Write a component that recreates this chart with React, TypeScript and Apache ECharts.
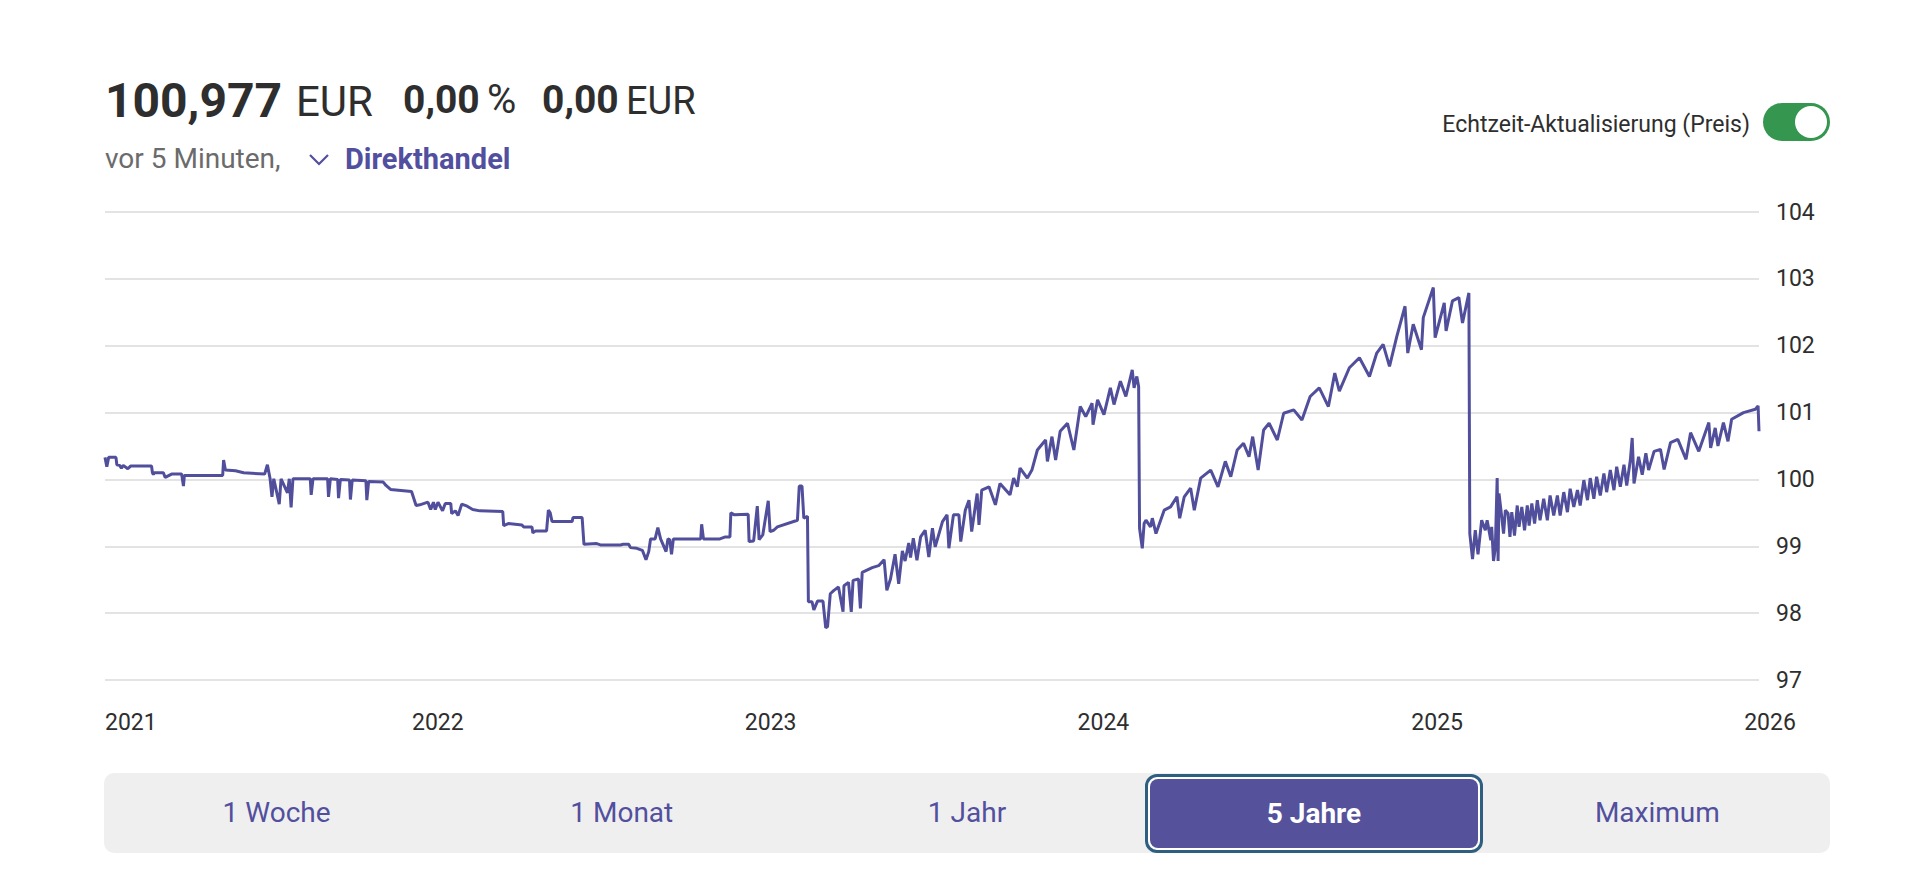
import React, { useEffect, useRef } from "react";
import * as echarts from "echarts";

// ---- data ----
const dates2021to2024: string[] = [
  "2021-01-01","2021-01-03","2021-01-05","2021-01-13","2021-01-14","2021-01-17","2021-01-19","2021-01-21","2021-01-26","2021-01-29",
  "2021-02-21","2021-02-22","2021-02-23","2021-02-24","2021-03-06","2021-03-08","2021-03-15","2021-03-26","2021-03-28","2021-03-29",
  "2021-05-10","2021-05-11","2021-05-13","2021-05-24","2021-06-02","2021-06-25","2021-06-28","2021-07-01","2021-07-03","2021-07-05",
  "2021-07-11","2021-07-13","2021-07-20","2021-07-22","2021-07-24","2021-07-26","2021-08-14","2021-08-15","2021-08-17","2021-09-02",
  "2021-09-03","2021-09-05","2021-09-13","2021-09-14","2021-09-16","2021-09-26","2021-09-27","2021-09-29","2021-10-14","2021-10-15",
  "2021-10-17","2021-11-02","2021-11-05","2021-11-10","2021-12-03","2021-12-08","2021-12-12","2021-12-21","2021-12-24","2021-12-27",
  "2021-12-29","2022-01-01","2022-01-06","2022-01-09","2022-01-15","2022-01-16","2022-01-20","2022-01-23","2022-01-27","2022-02-02",
  "2022-02-08","2022-02-16","2022-03-13","2022-03-14","2022-03-19","2022-04-03","2022-04-05","2022-04-14","2022-04-15","2022-04-18",
  "2022-04-30","2022-05-02","2022-05-04","2022-05-06","2022-05-28","2022-05-29","2022-06-08","2022-06-10","2022-06-24","2022-06-28",
  "2022-07-20","2022-07-23","2022-07-29","2022-07-31","2022-08-07","2022-08-13","2022-08-17","2022-08-20","2022-08-22","2022-08-27",
  "2022-08-30","2022-09-02","2022-09-08","2022-09-10","2022-09-12","2022-09-14","2022-09-16","2022-10-16","2022-10-17","2022-10-19",
  "2022-11-06","2022-11-12","2022-11-17","2022-11-18","2022-11-22","2022-12-07","2022-12-08","2022-12-13","2022-12-17","2022-12-19",
  "2022-12-23","2022-12-29","2022-12-31","2023-01-04","2023-01-08","2023-01-30","2023-02-01","2023-02-04","2023-02-06","2023-02-10",
  "2023-02-11","2023-02-15","2023-02-17","2023-02-21","2023-02-27","2023-03-02","2023-03-04","2023-03-07","2023-03-11","2023-03-16",
  "2023-03-21","2023-03-22","2023-03-27","2023-03-30","2023-04-01","2023-04-07","2023-04-09","2023-04-11","2023-04-22","2023-04-29",
  "2023-05-05","2023-05-08","2023-05-12","2023-05-17","2023-05-21","2023-05-25","2023-05-28","2023-06-01","2023-06-03","2023-06-06",
  "2023-06-10","2023-06-14","2023-06-19","2023-06-23","2023-06-27","2023-06-30","2023-07-08","2023-07-13","2023-07-15","2023-07-20",
  "2023-07-26","2023-07-28","2023-08-02","2023-08-06","2023-08-09","2023-08-15","2023-08-17","2023-08-20","2023-08-28","2023-09-04",
  "2023-09-09","2023-09-20","2023-09-24","2023-09-28","2023-10-01","2023-10-09","2023-10-14","2023-10-20","2023-10-29","2023-10-31",
  "2023-11-05","2023-11-09","2023-11-14","2023-11-22","2023-11-29","2023-12-06","2023-12-12","2023-12-19","2023-12-20","2023-12-25",
  "2024-01-01","2024-01-08","2024-01-12","2024-01-19","2024-01-25","2024-02-01","2024-02-03","2024-02-06","2024-02-08","2024-02-09",
  "2024-02-12","2024-02-14","2024-02-16","2024-02-21","2024-02-23","2024-02-27","2024-03-07","2024-03-14","2024-03-21","2024-03-24",
  "2024-03-29","2024-04-05","2024-04-09","2024-04-16","2024-04-27","2024-05-05","2024-05-13","2024-05-19","2024-05-26","2024-06-02",
  "2024-06-08","2024-06-12","2024-06-18","2024-06-24","2024-06-30","2024-07-09","2024-07-16","2024-07-27","2024-08-05","2024-08-14",
  "2024-08-24","2024-09-03","2024-09-10","2024-09-15","2024-09-26","2024-10-07","2024-10-18","2024-10-26","2024-11-02","2024-11-09",
  "2024-11-17","2024-11-26","2024-11-29","2024-12-05","2024-12-14","2024-12-16","2024-12-27","2024-12-29",
];

const prices2021to2024: number[] = [
  100.33,100.19,100.33,100.33,100.22,100.21,100.17,100.21,100.16,100.20,
  100.20,100.10,100.07,100.10,100.10,100.03,100.08,100.08,99.90,100.06,
  100.06,100.29,100.14,100.13,100.10,100.08,100.22,100.01,99.74,100.01,
  99.63,100.01,99.80,100.01,99.58,100.01,100.01,99.77,100.01,100.01,
  99.74,100.01,100.00,99.72,100.00,99.99,99.70,99.99,99.98,99.69,
  99.97,99.96,99.91,99.85,99.82,99.61,99.62,99.66,99.55,99.66,
  99.55,99.66,99.53,99.64,99.64,99.49,99.53,99.46,99.63,99.60,
  99.55,99.53,99.52,99.31,99.34,99.32,99.29,99.29,99.20,99.23,
  99.23,99.54,99.50,99.37,99.37,99.43,99.43,99.03,99.04,99.02,
  99.02,99.03,99.03,98.98,98.97,98.94,98.80,98.92,99.11,99.11,
  99.28,99.11,98.92,99.11,99.10,98.88,99.11,99.11,99.33,99.11,
  99.11,99.14,99.14,99.50,99.47,99.48,99.07,99.08,99.60,99.10,
  99.17,99.68,99.22,99.24,99.29,99.39,99.90,99.90,99.42,99.45,
  98.17,98.17,98.05,98.18,98.18,97.78,97.80,98.29,98.34,98.39,
  98.02,98.41,98.46,98.02,98.49,98.51,98.07,98.61,98.68,98.71,
  98.80,98.34,98.51,98.88,98.44,98.93,98.78,99.05,98.83,99.12,
  98.79,99.14,99.24,98.84,99.27,98.99,99.37,99.47,98.97,99.47,
  99.47,99.07,99.54,99.69,99.22,99.79,99.32,99.84,99.89,99.62,
  99.94,99.77,100.02,99.89,100.17,100.02,100.14,100.44,100.59,100.27,
  100.64,100.29,100.72,100.84,100.44,101.09,100.94,101.14,100.82,101.19,
  100.97,101.37,101.12,101.47,101.24,101.64,101.37,101.54,101.39,99.27,
  98.97,99.34,99.39,99.29,99.42,99.19,99.54,99.59,99.74,99.42,
  99.74,99.87,99.54,100.02,100.14,99.89,100.27,100.04,100.44,100.54,
  100.34,100.64,100.14,100.74,100.84,100.59,100.99,101.04,100.89,101.24,
  101.37,101.09,101.59,101.32,101.67,101.82,101.54,101.89,102.02,101.69,
  102.14,102.59,101.89,102.32,101.94,102.42,102.87,102.12,
];

const dates2025: string[] = [
  "2025-01-08","2025-01-10","2025-01-17","2025-01-24","2025-01-28","2025-02-04","2025-02-05","2025-02-08",
  "2025-02-11","2025-02-14","2025-02-18","2025-02-22","2025-02-24","2025-02-28",
  "2025-03-01","2025-03-03","2025-03-05","2025-03-07","2025-03-08","2025-03-09","2025-03-12","2025-03-14","2025-03-16","2025-03-19","2025-03-21","2025-03-23","2025-03-26","2025-03-29","2025-03-31",
  "2025-04-03","2025-04-06","2025-04-09","2025-04-11","2025-04-14","2025-04-17","2025-04-20","2025-04-23","2025-04-27",
  "2025-05-01","2025-05-04","2025-05-08","2025-05-12","2025-05-15","2025-05-19","2025-05-23","2025-05-26","2025-05-30",
  "2025-06-03","2025-06-06","2025-06-10","2025-06-14","2025-06-17","2025-06-21","2025-06-24","2025-06-28",
  "2025-07-02","2025-07-05","2025-07-09","2025-07-13","2025-07-16","2025-07-20","2025-07-24","2025-07-27","2025-07-31",
  "2025-08-02","2025-08-04","2025-08-09","2025-08-13","2025-08-17","2025-08-20","2025-08-26",
  "2025-09-02","2025-09-06","2025-09-13","2025-09-21","2025-09-30","2025-10-05","2025-10-14","2025-10-25","2025-10-27",
  "2025-11-01","2025-11-04","2025-11-10","2025-11-15","2025-11-19","2025-12-02","2025-12-15","2025-12-18","2025-12-19",
];

const prices2025: number[] = [
  102.64,102.22,102.67,102.72,102.34,102.79,99.19,98.81,
  99.24,98.88,99.39,99.24,99.39,99.09,
  99.29,98.78,98.98,100.02,98.78,99.79,99.44,99.19,99.54,99.49,99.14,99.51,99.16,99.61,99.29,
  99.59,99.24,99.61,99.31,99.64,99.34,99.69,99.39,99.71,
  99.39,99.76,99.46,99.76,99.46,99.81,99.51,99.86,99.59,
  99.84,99.61,99.99,99.69,100.02,99.71,100.04,99.76,
  100.09,99.81,100.14,99.84,100.19,99.89,100.22,99.91,100.29,
  100.62,99.94,100.34,100.07,100.39,100.14,100.42,
  100.45,100.15,100.55,100.60,100.30,100.70,100.42,100.85,100.47,
  100.77,100.50,100.85,100.57,100.90,101.00,101.05,101.10,100.72,
];

const dates: string[] = dates2021to2024.concat(dates2025);
const prices: number[] = prices2021to2024.concat(prices2025);

const yearLabels: string[] = ["2021", "2022", "2023", "2024", "2025", "2026"];
const rangeButtons: string[] = ["1 Woche", "1 Monat", "1 Jahr", "5 Jahre", "Maximum"];
const selectedRange = "5 Jahre";

const FONT = 'Roboto, "Noto Sans", Arial, sans-serif';
const PURPLE = "#524f9e";
const LINE = "#514f9c";

function Txt(props: {
  text: string;
  left?: number;
  right?: number;
  baseline: number;
  size: number;
  bold?: boolean;
  color?: string;
}) {
  const { text, left, right, baseline, size, bold, color } = props;
  const top = baseline - 0.8415 * size;
  return (
    <div
      style={{
        position: "absolute",
        left,
        right,
        top,
        fontSize: size,
        lineHeight: 1,
        fontWeight: bold ? 700 : 400,
        color: color || "#2e2e2e",
        whiteSpace: "nowrap",
        fontFamily: FONT,
      }}
    >
      {text}
    </div>
  );
}

export default function App() {
  const ref = useRef<HTMLDivElement>(null);

  useEffect(() => {
    if (!ref.current) return;
    const chart = echarts.init(ref.current, undefined, { renderer: "svg" });
    const n = Math.min(dates.length, prices.length);
    const data = dates.slice(0, n).map((d, i) => [d, prices[i]]);
    chart.setOption({
      animation: false,
      grid: [
        { left: 105, right: 161, top: 212, bottom: 205 },
        { left: 105, right: 150, top: 212, bottom: 205 },
      ],
      xAxis: [
        {
          type: "time",
          gridIndex: 0,
          min: dates[0],
          max: dates[n - 1],
          show: false,
        },
        {
          type: "time",
          gridIndex: 1,
          min: yearLabels[0] + "-01-01",
          max: yearLabels[yearLabels.length - 1] + "-01-01",
          axisLine: { show: false },
          axisTick: { show: false },
          splitLine: { show: false },
          axisLabel: {
            show: true,
            margin: 31,
            color: "#2e2e2e",
            fontSize: 23,
            fontFamily: FONT,
            showMinLabel: true,
            showMaxLabel: true,
            alignMinLabel: "left",
            hideOverlap: false,
            formatter: (v: number) => {
              const d = new Date(v);
              const y = String(d.getFullYear());
              return d.getMonth() === 0 && d.getDate() === 1 && yearLabels.includes(y) ? y : "";
            },
          },
        },
      ],
      yAxis: [
        {
          type: "value",
          gridIndex: 0,
          position: "right",
          min: 97,
          max: 104,
          interval: 1,
          axisLine: { show: false },
          axisTick: { show: false },
          splitLine: { show: true, lineStyle: { color: "#dadada", width: 1.5 } },
          axisLabel: {
            margin: 17,
            color: "#2e2e2e",
            fontSize: 23,
            fontFamily: FONT,
          },
        },
        { type: "value", gridIndex: 1, show: false, min: 0, max: 1 },
      ],
      series: [
        {
          type: "line",
          xAxisIndex: 0,
          yAxisIndex: 0,
          data,
          symbol: "none",
          showSymbol: false,
          silent: true,
          lineStyle: { color: LINE, width: 3 },
          itemStyle: { color: LINE },
        },
      ],
    });
    return () => chart.dispose();
  }, []);

  const barLeft = 104;
  const barWidth = 1726;
  const seg = barWidth / rangeButtons.length;

  return (
    <div
      style={{
        position: "absolute",
        left: 0,
        top: 0,
        width: 1920,
        height: 885,
        overflow: "hidden",
        background: "#fff",
        fontFamily: FONT,
      }}
    >
      <div ref={ref} style={{ position: "absolute", left: 0, top: 0, width: 1920, height: 885 }} />

      {/* header */}
      <Txt text="100,977" left={105} baseline={117} size={48} bold />
      <Txt text="EUR" left={296} baseline={116} size={42} />
      <Txt text="0,00" left={403} baseline={114} size={39} bold />
      <Txt text="%" left={487} baseline={114} size={40} />
      <Txt text="0,00" left={542} baseline={114} size={39} bold />
      <Txt text="EUR" left={626} baseline={114} size={38} />

      <Txt text="vor 5 Minuten," left={105} baseline={169} size={28} color="#6b6b6b" />
      <svg
        style={{ position: "absolute", left: 308, top: 153, width: 22, height: 14 }}
        viewBox="0 0 22 14"
      >
        <polyline points="2,2 11,11 20,2" fill="none" stroke={PURPLE} strokeWidth={2.2} />
      </svg>
      <Txt text="Direkthandel" left={345} baseline={169} size={29} bold color={PURPLE} />

      <Txt text="Echtzeit-Aktualisierung (Preis)" right={170} baseline={132} size={23} />
      <div
        style={{
          position: "absolute",
          left: 1763,
          top: 103,
          width: 67,
          height: 38,
          borderRadius: 19,
          background: "#35964f",
        }}
      >
        <div
          style={{
            position: "absolute",
            left: 32,
            top: 3,
            width: 32,
            height: 32,
            borderRadius: 16,
            background: "#fff",
          }}
        />
      </div>

      {/* range buttons */}
      <div
        style={{
          position: "absolute",
          left: barLeft,
          top: 773,
          width: barWidth,
          height: 80,
          borderRadius: 10,
          background: "#efefef",
        }}
      >
        {rangeButtons.map((label, i) => {
          const sel = label === selectedRange;
          if (sel) {
            return (
              <div
                key={label}
                style={{
                  position: "absolute",
                  left: 1041,
                  top: 1,
                  width: 338,
                  height: 79,
                  boxSizing: "border-box",
                  border: "3px solid #2e5f80",
                  borderRadius: 12,
                  background: "#fff",
                  padding: 2,
                }}
              >
                <div
                  style={{
                    width: "100%",
                    height: "100%",
                    borderRadius: 8,
                    background: "#55519b",
                    color: "#fff",
                    fontWeight: 700,
                    fontSize: 28,
                    lineHeight: 1,
                    display: "flex",
                    alignItems: "center",
                    justifyContent: "center",
                  }}
                >
                  {label}
                </div>
              </div>
            );
          }
          return (
            <div
              key={label}
              style={{
                position: "absolute",
                left: i * seg,
                top: 0,
                width: seg,
                height: 80,
                display: "flex",
                alignItems: "center",
                justifyContent: "center",
                color: PURPLE,
                fontSize: 28,
                lineHeight: 1,
              }}
            >
              {label}
            </div>
          );
        })}
      </div>
    </div>
  );
}
